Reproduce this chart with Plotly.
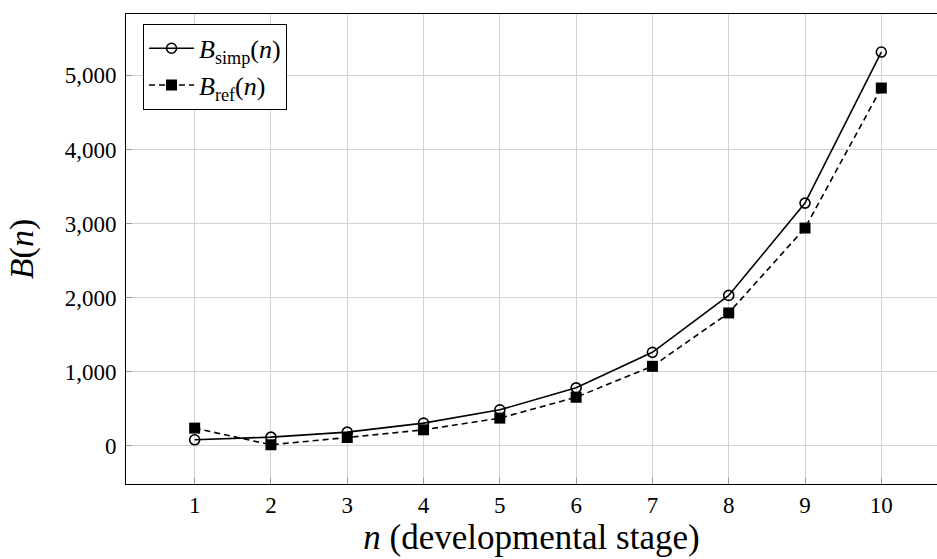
import plotly.graph_objects as go

n_stage = [1, 2, 3, 4, 5, 6, 7, 8, 9, 10]
b_simp = [77, 113, 181, 303, 482, 779, 1259, 2028, 3275, 5316]
b_ref = [235, 10, 108, 212, 370, 652, 1070, 1791, 2938, 4830]
x_ticks = [1, 2, 3, 4, 5, 6, 7, 8, 9, 10]
y_ticks = [0, 1000, 2000, 3000, 4000, 5000]

FONT = "Liberation Serif"

fig = go.Figure()
fig.add_trace(go.Scatter(
    x=n_stage, y=b_simp, mode="lines+markers",
    name="<i>B</i><sub>simp</sub>(<i>n</i>)",
    line=dict(color="black", width=1.6),
    marker=dict(symbol="circle-open", size=10, color="black", line=dict(width=1.6, color="black")),
))
fig.add_trace(go.Scatter(
    x=n_stage, y=b_ref, mode="lines+markers",
    name="<i>B</i><sub>ref</sub>(<i>n</i>)",
    line=dict(color="black", width=1.6, dash="6px,4px"),
    marker=dict(symbol="square", size=11, color="black"),
))

fig.update_layout(
    width=937, height=559,
    margin=dict(l=126, r=0, t=14, b=75),
    paper_bgcolor="white", plot_bgcolor="white",
    font=dict(family=FONT, color="black", size=23),
    legend=dict(
        x=0.021, y=0.979, xanchor="left", yanchor="top",
        bgcolor="white", bordercolor="black", borderwidth=1,
        font=dict(family=FONT, size=26, color="black"),
        itemwidth=45, tracegroupgap=0,
    ),
    xaxis=dict(
        range=[0.1, 10.73], tickvals=x_ticks,
        showgrid=True, gridcolor="#d3d3d3", gridwidth=1,
        zeroline=False, showline=True, linecolor="black", linewidth=1,
        mirror=True, ticks="inside", ticklen=6, tickcolor="#999999",
        tickfont=dict(family=FONT, size=23), ticklabelstandoff=0,
        title=dict(text="<i>n</i> (developmental stage)", font=dict(family=FONT, size=35), standoff=2),
    ),
    yaxis=dict(
        range=[-520, 5830], tickvals=y_ticks, tickformat=",d",
        showgrid=True, gridcolor="#d3d3d3", gridwidth=1,
        zeroline=False, showline=True, linecolor="black", linewidth=1,
        ticks="inside", ticklen=6, tickcolor="#999999",
        tickfont=dict(family=FONT, size=23), ticklabelstandoff=4,
        title=dict(text="<i>B</i>(<i>n</i>)", font=dict(family=FONT, size=34), standoff=20),
    ),
)

fig.write_html(
    "out.html",
    config={"displayModeBar": False},
    post_script="document.body.style.margin='0';document.body.style.padding='0';",
)
